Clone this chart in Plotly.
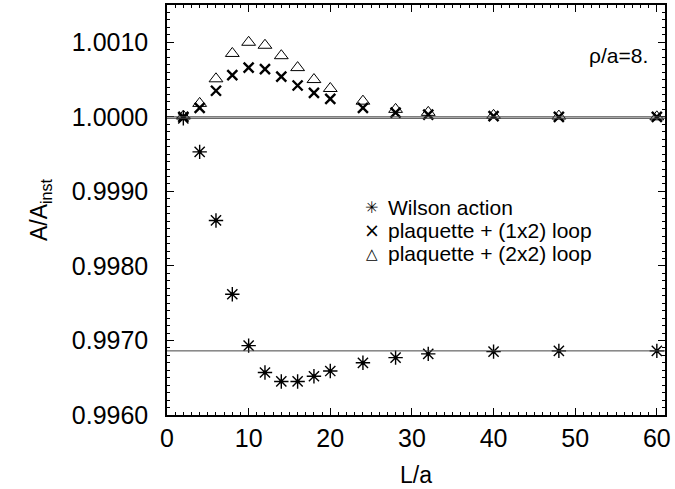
import plotly.graph_objects as go

L = [2, 4, 6, 8, 10, 12, 14, 16, 18, 20, 24, 28, 32, 40, 48, 60]
wilson = [0.99998, 0.99953, 0.99861, 0.99762, 0.99693, 0.99657, 0.99645, 0.99645,
          0.99652, 0.99659, 0.99670, 0.99677, 0.99682, 0.99685, 0.99686, 0.99686]
plaq_1x2 = [1.00000, 1.00012, 1.00035, 1.00056, 1.00066, 1.00064, 1.00054, 1.00042,
            1.00032, 1.00024, 1.00012, 1.000055, 1.00003, 1.00001, 1.00000, 1.00000]
plaq_2x2 = [1.00001, 1.00018, 1.00051, 1.00085, 1.00100, 1.00096, 1.00082, 1.00066,
            1.00050, 1.00038, 1.00021, 1.00010, 1.00006, 1.00002, 1.00001, 1.00000]
asymptotes = [1.00000, 0.99998, 0.99686]

names = ["Wilson action", "plaquette + (1x2) loop", "plaquette + (2x2) loop"]
legend_glyphs = ["\u2733\ufe0e", "×", "△"]
legend_glyph_sizes = [16, 19, 15]
FONT = "Liberation Sans, Arial, Helvetica, sans-serif"

fig = go.Figure()

for yv in asymptotes:
    fig.add_hline(y=yv, line=dict(color="#444", width=1))

fig.add_trace(go.Scatter(x=L, y=wilson, mode="markers", name=names[0],
                         marker=dict(symbol="asterisk-open", size=12, color="black",
                                     line=dict(color="black", width=1.4))))
fig.add_trace(go.Scatter(x=L, y=plaq_1x2, mode="markers", name=names[1],
                         marker=dict(symbol="x-thin-open", size=10, color="black",
                                     line=dict(color="black", width=2.4))))
fig.add_trace(go.Scatter(x=L, y=plaq_2x2, mode="markers", name=names[2],
                         marker=dict(symbol="triangle-up-open", size=12, color="black",
                                     line=dict(color="black", width=1))))
fig.add_trace(go.Scatter(x=L, y=wilson, mode="markers", showlegend=False,
                         hoverinfo="skip",
                         marker=dict(symbol="circle", size=4, color="black")))

axis_common = dict(
    showline=True, linecolor="black", linewidth=1.5, mirror="allticks",
    ticks="inside", ticklen=7, tickwidth=1.2, tickcolor="black",
    showgrid=False, zeroline=False, automargin=False,
    tickfont=dict(family=FONT, size=25, color="black"),
    title_font=dict(family=FONT, size=23, color="black"),
)

fig.update_xaxes(
    range=[0, 61], dtick=10, tick0=0,
    minor=dict(dtick=1, ticks="inside", ticklen=3, tickcolor="black", tickwidth=1),
    title_text="L/a", title_standoff=16,
    **axis_common,
)
fig.update_yaxes(
    range=[0.996, 1.0015], dtick=0.001, tick0=0.996, tickformat=".4f",
    minor=dict(dtick=0.0001, ticks="inside", ticklen=3, tickcolor="black", tickwidth=1),
    title_text="A/A<sub>inst</sub>", title_standoff=18, ticklabelstandoff=12,
    **axis_common,
)

fig.add_annotation(text="ρ/a=8.", xref="paper", yref="paper", x=0.97, y=0.878,
                   xanchor="right", yanchor="middle", showarrow=False,
                   font=dict(family=FONT, size=21, color="black"))

legend_y = [0.507, 0.451, 0.393]
for g, gs, n, yy in zip(legend_glyphs, legend_glyph_sizes, names, legend_y):
    fig.add_annotation(text=g, xref="paper", yref="paper", x=0.4116, y=yy,
                       xanchor="center", yanchor="middle", showarrow=False,
                       font=dict(family="DejaVu Sans, sans-serif", size=gs, color="black"))
    fig.add_annotation(text=n, xref="paper", yref="paper", x=0.4398, y=yy,
                       xanchor="left", yanchor="middle", showarrow=False, align="left",
                       font=dict(family=FONT, size=21, color="black"))

fig.update_layout(
    width=675, height=489,
    margin=dict(l=167, r=10, t=5, b=74),
    plot_bgcolor="white", paper_bgcolor="white",
    showlegend=False,
)

fig.write_html("out.html", config={"displayModeBar": False},
               post_script="document.body.style.margin='0';document.body.style.padding='0';")
